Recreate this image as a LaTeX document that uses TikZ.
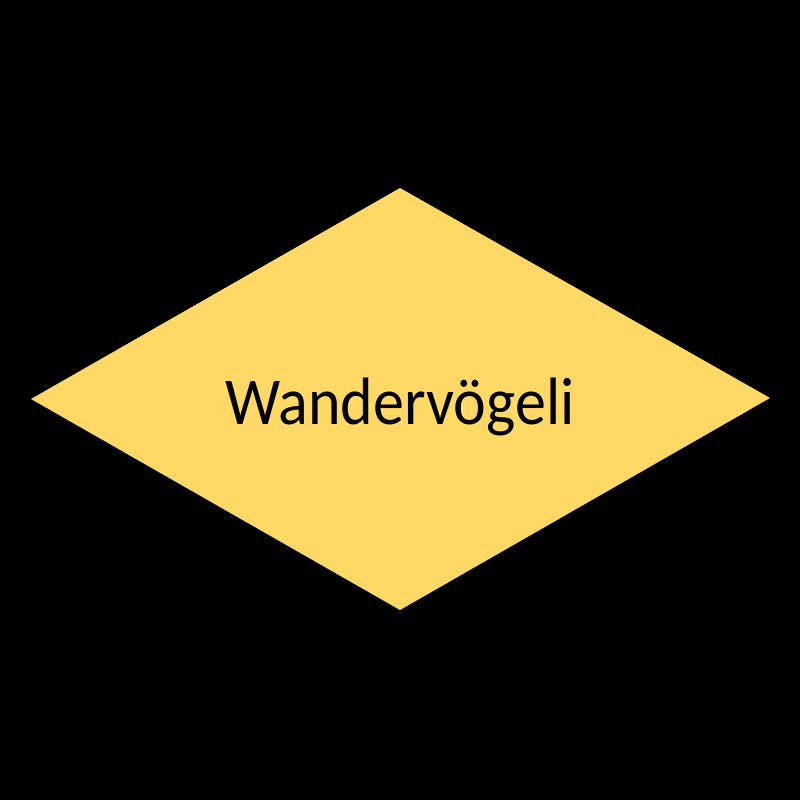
\documentclass[tikz,border=0pt]{standalone}
\usepackage{fontspec}
\usepackage{graphicx}
\setmainfont{Carlito}
\definecolor{diamondfill}{HTML}{FFD966}
\begin{document}
\begin{tikzpicture}[x=1pt,y=1pt,
  shapefill/.style={fill=diamondfill, draw=none},
  labeltext/.style={font=\fontsize{33.5}{40}\selectfont, text=black, inner sep=0pt, anchor=base}]
\fill[black] (0,0) rectangle (400,400);
\useasboundingbox (0,0) rectangle (400,400);
\coordinate (top) at (200,306);
\coordinate (right) at (385,201);
\coordinate (bottom) at (200,95);
\coordinate (left) at (15.5,200.5);
\path[shapefill] (top) -- (right) -- (bottom) -- (left) -- cycle;
\node[labeltext] (label) at (200,187.5) {\scalebox{0.925}[1]{Wandervögeli}};
\end{tikzpicture}
\end{document}
